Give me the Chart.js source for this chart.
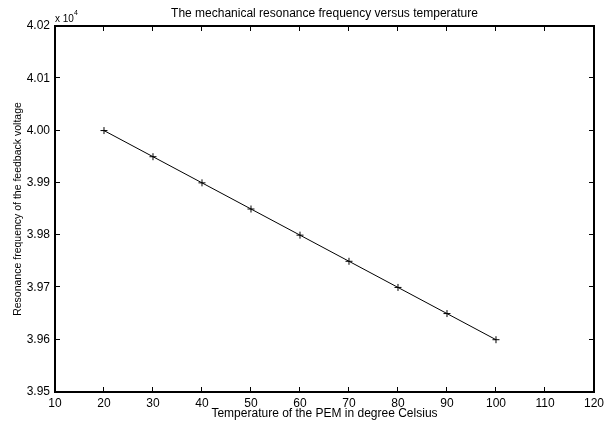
<!DOCTYPE html>
<html>
<head>
<meta charset="utf-8">
<title>Resonance frequency versus temperature</title>
<script src="https://cdn.jsdelivr.net/npm/chart.js@4/dist/chart.umd.min.js"></script>
<style>
  html, body { margin: 0; padding: 0; background: #ffffff; }
  #wrap { width: 608px; height: 422px; }
</style>
</head>
<body>
<div id="wrap"><canvas id="chart" width="608" height="422"></canvas></div>
<script>
// Temperature of the PEM (degree Celsius)
const temperatures = [20, 30, 40, 50, 60, 70, 80, 90, 100];
// Resonance frequency of the feedback voltage (Hz)
const frequencies = [40000, 39950, 39900, 39850, 39800, 39750, 39700, 39650, 39600];
// Axis tick values
const xTicks = [10, 20, 30, 40, 50, 60, 70, 80, 90, 100, 110, 120];
const yTicks = [39500, 39600, 39700, 39800, 39900, 40000, 40100, 40200];

const titleText = 'The mechanical resonance frequency versus temperature';
const xLabel = 'Temperature of the PEM in degree Celsius';
const yLabel = 'Resonance frequency of the feedback voltage';
const yScaleFactor = 1e4;

const FONT = '"Liberation Sans", Arial, Helvetica, sans-serif';

// Box around the axes, inward tick marks on all four sides, title and exponent label
const framePlugin = {
  id: 'frame',
  afterDraw(chart) {
    const { ctx, chartArea: a, scales } = chart;
    const tl = 5;
    const L = Math.round(a.left), R = Math.round(a.right);
    const T = Math.round(a.top), B = Math.round(a.bottom);
    ctx.save();
    ctx.strokeStyle = '#000';

    // inward ticks
    ctx.lineWidth = 1;
    ctx.beginPath();
    xTicks.forEach(v => {
      const px = Math.round(scales.x.getPixelForValue(v)) - 0.5;
      ctx.moveTo(px, B); ctx.lineTo(px, B - tl);
      ctx.moveTo(px, T); ctx.lineTo(px, T + tl);
    });
    yTicks.forEach(v => {
      const py = Math.round(scales.y.getPixelForValue(v)) - 0.5;
      ctx.moveTo(L, py); ctx.lineTo(L + tl, py);
      ctx.moveTo(R, py); ctx.lineTo(R - tl, py);
    });
    ctx.stroke();

    // axes box
    ctx.lineWidth = 2;
    ctx.beginPath();
    ctx.rect(L, T, R - L, B - T);
    ctx.stroke();

    ctx.fillStyle = '#000';
    ctx.textAlign = 'center';
    ctx.textBaseline = 'middle';
    ctx.font = '12px ' + FONT;
    ctx.fillText(titleText, (a.left + a.right) / 2, 13.5);

    ctx.textAlign = 'left';
    ctx.font = '10px ' + FONT;
    ctx.fillText('x 10', L, 19);
    ctx.font = '7px ' + FONT;
    ctx.fillText('4', L + 19, 12.6);
    ctx.restore();
  }
};

new Chart(document.getElementById('chart'), {
  type: 'line',
  data: {
    datasets: [{
      data: temperatures.map((t, i) => ({ x: t, y: frequencies[i] })),
      borderColor: '#000',
      borderWidth: 1,
      backgroundColor: '#000',
      pointStyle: 'cross',
      pointRadius: 3.5,
      pointBorderWidth: 1,
      pointBorderColor: '#000',
      tension: 0,
      fill: false
    }]
  },
  options: {
    responsive: false,
    animation: false,
    layout: { padding: { top: 26, right: 8, left: 0, bottom: 0 } },
    plugins: {
      legend: { display: false },
      tooltip: { enabled: false },
      title: { display: false }
    },
    scales: {
      x: {
        type: 'linear',
        min: 10, max: 120,
        afterBuildTicks(scale) { scale.ticks = xTicks.map(v => ({ value: v })); },
        afterFit(scale) { scale.height = 30; },
        grid: { display: false, drawTicks: false },
        border: { display: false },
        ticks: {
          color: '#000', padding: 4, maxRotation: 0, autoSkip: false,
          font: { family: FONT, size: 12 },
          callback: v => String(v)
        },
        title: {
          display: true, text: xLabel, color: '#000',
          font: { family: FONT, size: 12 },
          padding: { top: 0, bottom: 1.5 }
        }
      },
      y: {
        type: 'linear',
        min: 39500, max: 40200,
        afterBuildTicks(scale) { scale.ticks = yTicks.map(v => ({ value: v })); },
        afterFit(scale) { scale.width = 55; },
        grid: { display: false, drawTicks: false },
        border: { display: false },
        ticks: {
          color: '#000', padding: 5, autoSkip: false,
          font: { family: FONT, size: 12 },
          callback: v => (v / yScaleFactor).toFixed(2)
        },
        title: {
          display: true, text: yLabel, color: '#000',
          font: { family: FONT, size: 10.5 },
          padding: { top: 12, bottom: 0 }
        }
      }
    }
  },
  plugins: [framePlugin]
});
</script>
</body>
</html>
